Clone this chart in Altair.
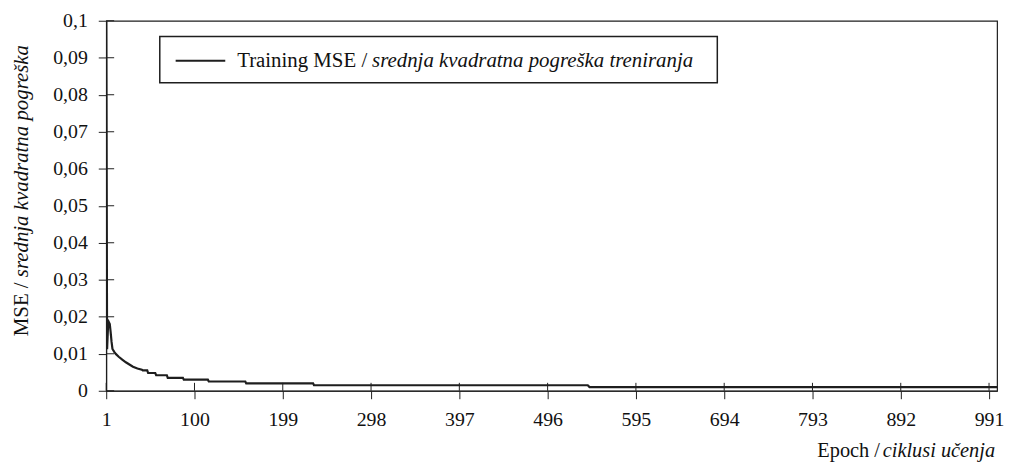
import altair as alt
import pandas as pd

# ---- data ----
epochs = [1, 2, 3, 4, 5, 6, 7, 8, 10, 12, 15, 19, 23, 27, 31, 36, 41, 42, 47, 48,
          56, 57, 69, 70, 87, 88, 115, 116, 157, 158, 233, 234, 541, 543, 1000]
mse = [0.1, 0.0112, 0.0172, 0.0185, 0.018, 0.0158, 0.0132, 0.0113, 0.0105, 0.0099,
       0.0092, 0.0084, 0.0077, 0.0071, 0.0065, 0.006, 0.0057, 0.0055, 0.0055, 0.0048,
       0.0048, 0.0042, 0.0042, 0.0035, 0.0035, 0.003, 0.003, 0.0025, 0.0025, 0.002,
       0.002, 0.0015, 0.0015, 0.001, 0.001]
x_ticks = [1, 100, 199, 298, 397, 496, 595, 694, 793, 892, 991]
y_ticks = [0, 0.01, 0.02, 0.03, 0.04, 0.05, 0.06, 0.07, 0.08, 0.09, 0.1]

legend_regular = "Training MSE /"
legend_italic = "srednja kvadratna pogreška treniranja"
xtitle_regular = "Epoch /"
xtitle_italic = "ciklusi učenja"
ytitle_regular = "MSE /"
ytitle_italic = "srednja kvadratna pogreška"

FONT = "Liberation Serif"
INK = "#1e1e1e"
W, H = 898, 373

df = pd.DataFrame({"epoch": epochs, "mse": mse})
one = pd.DataFrame({"k": [0]})

xscale = alt.Scale(domain=[1, 1000], nice=False, zero=False)
yscale = alt.Scale(domain=[0, 0.1], nice=False, zero=True)

x_axis = alt.Axis(values=x_ticks, title=None, grid=False, tickSize=8,
                  labelPadding=11, labelFontSize=20, labelFont=FONT,
                  labelColor="#111", tickColor=INK, domainColor=INK,
                  labelFlush=False, labelOverlap=False)
y_axis = alt.Axis(values=y_ticks, title=None, grid=False, tickSize=8,
                  labelPadding=11, labelFontSize=20, labelFont=FONT,
                  labelColor="#111", tickColor=INK, domainColor=INK,
                  labelFlush=False, labelOverlap=False,
                  labelExpr="replace(format(datum.value, '.2~f'), '.', ',')")

line = alt.Chart(df).mark_line(color=INK, strokeWidth=2.2, clip=True).encode(
    x=alt.X("epoch:Q", scale=xscale, axis=x_axis),
    y=alt.Y("mse:Q", scale=yscale, axis=y_axis),
)

xt = alt.Chart(pd.DataFrame({"t": x_ticks})).mark_rule(color=INK, strokeWidth=1).encode(
    x=alt.X("t:Q", scale=xscale, axis=x_axis), y=alt.value(H - 8), y2=alt.value(H))
yt = alt.Chart(pd.DataFrame({"t": y_ticks})).mark_rule(color=INK, strokeWidth=1).encode(
    y=alt.Y("t:Q", scale=yscale, axis=y_axis), x=alt.value(0), x2=alt.value(8))

box = alt.Chart(one).mark_rect(fill="white", stroke=INK, strokeWidth=1.5).encode(
    x=alt.value(54), x2=alt.value(616), y=alt.value(16), y2=alt.value(62.5))
sample = alt.Chart(one).mark_rule(color=INK, strokeWidth=2).encode(
    x=alt.value(70), x2=alt.value(120), y=alt.value(40.3))
leg1 = alt.Chart(one).mark_text(text=legend_regular, font=FONT, fontSize=21, color="#111",
                                align="left", baseline="middle").encode(
    x=alt.value(132), y=alt.value(40.5))
leg2 = alt.Chart(one).mark_text(text=legend_italic, font=FONT, fontSize=21, fontStyle="italic",
                                color="#111", align="left", baseline="middle").encode(
    x=alt.value(268), y=alt.value(40.5))

xt1 = alt.Chart(one).mark_text(text=xtitle_regular, font=FONT, fontSize=20.5, color="#111",
                               align="right", baseline="middle").encode(
    x=alt.value(780), y=alt.value(434))
xt2 = alt.Chart(one).mark_text(text=xtitle_italic, font=FONT, fontSize=20.5, fontStyle="italic",
                               color="#111", align="right", baseline="middle").encode(
    x=alt.value(896), y=alt.value(434))

yt1 = alt.Chart(one).mark_text(text=ytitle_regular, font=FONT, fontSize=21, color="#111",
                               align="left", baseline="middle", angle=270).encode(
    x=alt.value(-85), y=alt.value(318))
yt2 = alt.Chart(one).mark_text(text=ytitle_italic, font=FONT, fontSize=21, fontStyle="italic",
                               color="#111", align="left", baseline="middle", angle=270).encode(
    x=alt.value(-85), y=alt.value(258.5))

chart = alt.layer(line, xt, yt, box, sample, leg1, leg2, xt1, xt2, yt1, yt2).properties(
    width=W, height=H,
    autosize=alt.AutoSizeParams(type="none"),
    padding={"left": 99, "top": 11, "right": 8, "bottom": 76},
    background="white",
).configure_view(stroke=INK, strokeWidth=1.2)

chart.save("out.html", embed_options={"renderer": "svg", "actions": False})
